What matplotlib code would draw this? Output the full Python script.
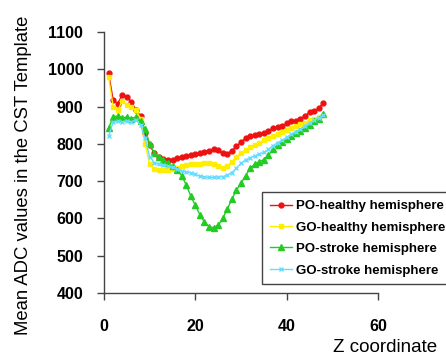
import matplotlib
matplotlib.use("Agg")
import matplotlib.pyplot as plt

plt.rcParams['font.family'] = ['Liberation Sans', 'DejaVu Sans']

z = list(range(1, 49))

po_healthy = [990, 918, 908, 932, 925, 913, 891, 875, 830, 797, 775, 765, 760, 758, 757, 762,
              765, 768, 770, 772, 775, 778, 782, 785, 783, 775, 773, 782, 793, 805, 815, 820,
              823, 826, 830, 835, 842, 845, 848, 855, 860, 862, 868, 875, 885, 888, 895, 910]
go_healthy = [980, 900, 890, 915, 905, 900, 890, 868, 800, 745, 733, 730, 730, 730, 732, 735,
              740, 743, 745, 746, 747, 748, 748, 745, 740, 735, 740, 752, 765, 775, 783, 791,
              797, 803, 810, 816, 822, 827, 832, 837, 842, 847, 852, 857, 863, 867, 872, 878]
po_stroke = [842, 872, 875, 870, 872, 868, 872, 860, 840, 800, 775, 765, 758, 750, 740, 730,
             715, 690, 660, 635, 610, 590, 578, 575, 582, 600, 625, 652, 676, 695, 715, 735,
             745, 752, 758, 770, 785, 797, 805, 812, 820, 828, 835, 842, 850, 860, 868, 880]
go_stroke = [820, 858, 860, 858, 862, 858, 865, 850, 815, 765, 750, 745, 742, 740, 737, 733,
             728, 725, 722, 718, 713, 711, 710, 710, 711, 712, 716, 723, 735, 748, 757, 763,
             768, 772, 777, 785, 795, 803, 810, 818, 826, 833, 840, 848, 856, 863, 870, 877]

labels = ["PO-healthy hemisphere", "GO-healthy hemisphere",
          "PO-stroke hemisphere", "GO-stroke hemisphere"]
xticks = [0, 20, 40, 60]
yticks = [400, 500, 600, 700, 800, 900, 1000, 1100]

W, H = 446, 358
fig = plt.figure(figsize=(W / 100, H / 100), dpi=100)
ax = fig.add_axes([104 / W, 1 - 293 / H, (378 - 104) / W, (293 - 32) / H])

styles = [
    dict(color='#ee1111', marker='o', markersize=3.5),
    dict(color='#ffee00', marker='s', markersize=3.2),
    dict(color='#22cc22', marker='^', markersize=4),
    dict(color='#66ddff', marker='x', markersize=3.5, markeredgewidth=1.0),
]
for ys, lab, st in zip([po_healthy, go_healthy, po_stroke, go_stroke], labels, styles):
    ax.plot(z, ys, linewidth=1.0, label=lab, **st)

ax.set_xlim(0, 60)
ax.set_ylim(400, 1100)
ax.set_xticks(xticks)
ax.set_yticks(yticks)
for s in ['top', 'right']:
    ax.spines[s].set_visible(False)
for s in ['left', 'bottom']:
    ax.spines[s].set_color('#444444')
    ax.spines[s].set_linewidth(1.0)
ax.tick_params(axis='both', direction='out', length=5, width=1, color='#444444')
ax.tick_params(axis='x', pad=14)
ax.tick_params(axis='y', pad=10)
for t in ax.get_xticklabels() + ax.get_yticklabels():
    t.set_fontsize(11.5)
    t.set_fontweight('bold')

fig.text(24 / W, 1 - 175 / H, "Mean ADC values in the CST Template", rotation=90,
         ha='center', va='center', fontsize=13.3)
fig.text(437 / W, 1 - 348 / H, "Z coordinate", ha='right', va='center', fontsize=13.5)

leg = ax.legend(loc='upper left', bbox_to_anchor=(262 / W, 1 - 192 / H),
                bbox_transform=fig.transFigure, borderaxespad=0,
                prop={'size': 9.5, 'weight': 'bold'}, frameon=True, fancybox=False,
                edgecolor='#444444', framealpha=1, handlelength=1.65, handletextpad=0.3,
                labelspacing=0.7, borderpad=0.6, markerscale=1.0)
leg.get_frame().set_linewidth(1.0)

fig.savefig("out.png", dpi=100)
